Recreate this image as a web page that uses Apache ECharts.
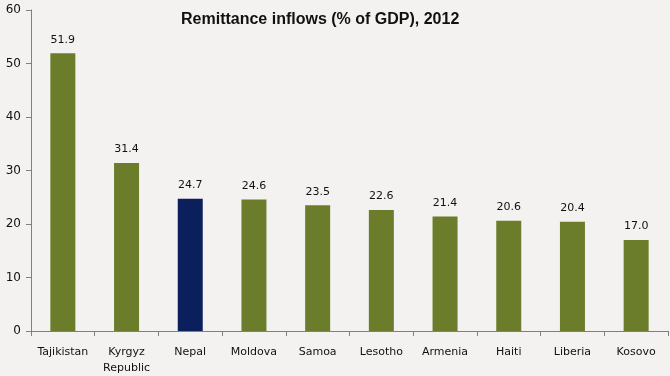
<!DOCTYPE html>
<html>
<head>
<meta charset="utf-8">
<script src="https://cdn.jsdelivr.net/npm/echarts@6/dist/echarts.min.js"></script>
<style>
  html, body { margin: 0; padding: 0; background: #f3f2f0; }
  #chart { width: 670px; height: 376px; }
</style>
</head>
<body>
<div id="chart"></div>
<script>
const countries = ['Tajikistan', 'Kyrgyz\nRepublic', 'Nepal', 'Moldova', 'Samoa', 'Lesotho', 'Armenia', 'Haiti', 'Liberia', 'Kosovo']
const remittances = [51.9, 31.4, 24.7, 24.6, 23.5, 22.6, 21.4, 20.6, 20.4, 17.0]
const highlight = 'Nepal'

const chart = echarts.init(document.getElementById('chart'))

const option = {
  backgroundColor: '#f3f2f0',
  animation: false,
  title: {
    text: 'Remittance inflows (% of GDP), 2012',
    left: 176,
    top: 7,
    textStyle: { fontFamily: 'Liberation Sans', fontSize: 16, fontWeight: 'bold', color: '#111' }
  },
  grid: { left: 31, right: 2, top: 10, bottom: 43 },
  xAxis: {
    type: 'category',
    data: countries,
    axisLine: { lineStyle: { color: '#7f7f7f' } },
    axisTick: { show: true, length: 5, lineStyle: { color: '#7f7f7f' } },
    axisLabel: { interval: 0, color: '#111', fontFamily: 'DejaVu Sans', fontSize: 11, margin: 13, lineHeight: 16 }
  },
  yAxis: {
    type: 'value',
    min: 0,
    max: 60,
    interval: 10,
    axisLine: { show: true, lineStyle: { color: '#7f7f7f' } },
    axisTick: { show: true, length: 5, lineStyle: { color: '#7f7f7f' } },
    splitLine: { show: false },
    axisLabel: { color: '#111', fontFamily: 'DejaVu Sans', fontSize: 12, margin: 10 }
  },
  series: [{
    type: 'bar',
    barWidth: 25,
    data: remittances.map((v, i) => ({
      value: v,
      itemStyle: { color: countries[i] === highlight ? '#0b1f5c' : '#6b7d2a' }
    })),
    label: {
      show: true,
      position: 'top',
      distance: 8,
      color: '#111',
      fontFamily: 'DejaVu Sans',
      fontSize: 11,
      formatter: p => p.value.toFixed(1)
    }
  }]
}

chart.setOption(option)
</script>
</body>
</html>
